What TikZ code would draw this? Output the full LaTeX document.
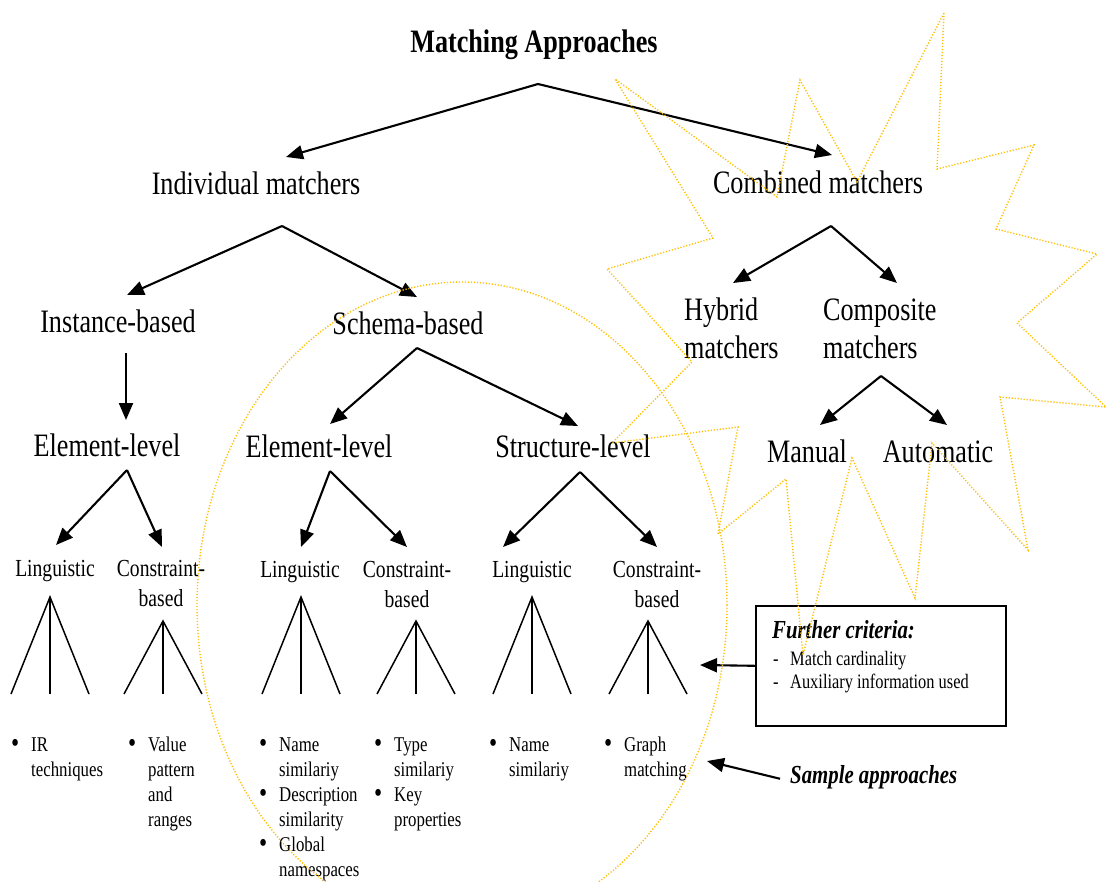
\documentclass[tikz,border=0pt]{standalone}
\usepackage{fontspec}
\setmainfont{Liberation Serif}[FakeStretch=0.8]
\usetikzlibrary{arrows.meta}
\definecolor{burst}{RGB}{255,192,0}
\newcommand\bl{\makebox[19pt][l]{\hspace{-1pt}\raisebox{-1.6pt}{\fontsize{29}{25}\selectfont\textbullet}}}
\begin{document}
\begin{tikzpicture}[x=1pt,y=-1pt,
  big/.style={inner sep=0pt, anchor=base, font=\fontsize{32.7}{38}\selectfont},
  small/.style={inner sep=0pt, anchor=base, font=\fontsize{24.5}{30}\selectfont},
  lst/.style={inner sep=0pt, anchor=base west, font=\fontsize{21}{25}\selectfont},
  note/.style={inner sep=0pt, anchor=base west, font=\bfseries\itshape\fontsize{26}{30}\selectfont},
  arr/.style={line width=2.1pt, -{Triangle[length=17pt,width=14pt]}},
  fan/.style={line width=1.5pt},
  dots/.style={draw=burst, line width=1.4pt, dash pattern=on 1.2pt off 1.8pt},
]
\useasboundingbox[fill=white] (0,0) rectangle (1107,881);

% ---- labels ----
\node[big, font=\bfseries\fontsize{32.7}{38}\selectfont] (root) at (534,52) {Matching Approaches};
\node[big] (indiv) at (256,194) {Individual matchers};
\node[big] (comb) at (818,193) {Combined matchers};
\node[big] (inst) at (118,332) {Instance-based};
\node[big] (schema) at (408,334) {Schema-based};
\node[big, anchor=base west] (hyb) at (684,320) {\begin{tabular}[t]{@{}l@{}}Hybrid\\matchers\end{tabular}};
\node[big, anchor=base west] (compo) at (823,320) {\begin{tabular}[t]{@{}l@{}}Composite\\matchers\end{tabular}};
\node[big] (manual) at (807,462) {Manual};
\node[big] (auto) at (938,462) {Automatic};
\node[big] (elA) at (107,456) {Element-level};
\node[big] (elB) at (319,457) {Element-level};
\node[big] (struct) at (573,457) {Structure-level};

\node[small] (lingA) at (55,576) {Linguistic};
\node[small] (consA) at (161,576) {\begin{tabular}[t]{@{}c@{}}Constraint-\\based\end{tabular}};
\node[small] (lingB) at (300,577) {Linguistic};
\node[small] (consB) at (407,577) {\begin{tabular}[t]{@{}c@{}}Constraint-\\based\end{tabular}};
\node[small] (lingC) at (532,577) {Linguistic};
\node[small] (consC) at (657,577) {\begin{tabular}[t]{@{}c@{}}Constraint-\\based\end{tabular}};

% ---- sample approach lists ----
\node[lst] (lA) at (12,751) {\begin{tabular}[t]{@{}l@{}l@{}}\bl & IR\\ & techniques\end{tabular}};
\node[lst] (lB) at (129,751) {\begin{tabular}[t]{@{}l@{}l@{}}\bl & Value\\ & pattern\\ & and\\ & ranges\end{tabular}};
\node[lst] (lC) at (260,751) {\begin{tabular}[t]{@{}l@{}l@{}}\bl & Name\\ & similariy\\ \bl & Description\\ & similarity\\ \bl & Global\\ & namespaces\end{tabular}};
\node[lst] (lD) at (375,751) {\begin{tabular}[t]{@{}l@{}l@{}}\bl & Type\\ & similariy\\ \bl & Key\\ & properties\end{tabular}};
\node[lst] (lE) at (490,751) {\begin{tabular}[t]{@{}l@{}l@{}}\bl & Name\\ & similariy\end{tabular}};
\node[lst] (lF) at (605,751) {\begin{tabular}[t]{@{}l@{}l@{}}\bl & Graph\\ & matching\end{tabular}};

% ---- criteria box and notes ----
\node[draw, line width=1.6pt, inner sep=0pt, minimum width=250pt, minimum height=120pt, anchor=north west] (crit) at (755,605) {};
\node[note] (critT) at (772,638) {Further criteria:};
\node[lst, font=\fontsize{20.5}{23}\selectfont] (critL) at (773,665)
  {\begin{tabular}[t]{@{}l@{}l@{}}\makebox[17pt][l]{-} & Match cardinality\\ \makebox[17pt][l]{-} & Auxiliary information used\end{tabular}};
\node[note] (samp) at (790,783) {Sample approaches};

% ---- fork points and arrow tips ----
\coordinate (fRoot) at (538,84);   \coordinate (tIndiv) at (286,157); \coordinate (tComb) at (832,155);
\coordinate (fIndiv) at (282,226); \coordinate (tInst) at (127,295);  \coordinate (tSchema) at (417,297);
\coordinate (fInst) at (126,353);  \coordinate (tElA) at (126,420);
\coordinate (fElA) at (127,470);   \coordinate (tLingA) at (56,545);  \coordinate (tConsA) at (162,547);
\coordinate (fSchema) at (417,348);\coordinate (tElB) at (330,424);   \coordinate (tStruct) at (578,426);
\coordinate (fElB) at (330,471);   \coordinate (tLingB) at (301,547); \coordinate (tConsB) at (407,547);
\coordinate (fStruct) at (580,472);\coordinate (tLingC) at (503,547); \coordinate (tConsC) at (657,547);
\coordinate (fComb) at (831,226);  \coordinate (tHyb) at (733,283);   \coordinate (tCompo) at (897,283);
\coordinate (fCompo) at (881,376); \coordinate (tMan) at (820,425);   \coordinate (tAuto) at (947,425);
\coordinate (tCrit) at (700,665);  \coordinate (tSamp) at (707,761);

\draw[arr] (fRoot) -- (tIndiv);   \draw[arr] (fRoot) -- (tComb);
\draw[arr] (fIndiv) -- (tInst);   \draw[arr] (fIndiv) -- (tSchema);
\draw[arr] (fInst) -- (tElA);
\draw[arr] (fElA) -- (tLingA);    \draw[arr] (fElA) -- (tConsA);
\draw[arr] (fSchema) -- (tElB);   \draw[arr] (fSchema) -- (tStruct);
\draw[arr] (fElB) -- (tLingB);    \draw[arr] (fElB) -- (tConsB);
\draw[arr] (fStruct) -- (tLingC); \draw[arr] (fStruct) -- (tConsC);
\draw[arr] (fComb) -- (tHyb);     \draw[arr] (fComb) -- (tCompo);
\draw[arr] (fCompo) -- (tMan);    \draw[arr] (fCompo) -- (tAuto);
\draw[arr] (crit.west) -- (tCrit);
\draw[arr] ([xshift=-10pt,yshift=-2pt]samp.west) -- (tSamp);

% ---- three-pronged fans under the leaf categories ----
\foreach \cx/\ty in {50/597, 163/621, 301/597, 416/621, 532/597, 648/621}{
  \draw[fan] (\cx-39,694) -- (\cx,\ty) -- (\cx+39,694);
  \draw[fan] (\cx,\ty) -- (\cx,694);
}

% ---- dotted highlight shapes ----
\draw[dots] (462,605) ellipse [x radius=265pt, y radius=323pt];
\draw[dots] (944,13) -- (937,169) -- (1034,145) -- (996,229) -- (1097,254)
  -- (1017,323) -- (1106,407) -- (1000,397) -- (1028,550) -- (932,443)
  -- (915,598) -- (852,458) -- (803,655) -- (786,479) -- (718,534)
  -- (738,427) -- (612,443) -- (692,362) -- (607,269) -- (713,238)
  -- (615,79) -- (777,197) -- (800,80) -- (857,182) -- cycle;
\end{tikzpicture}
\end{document}
